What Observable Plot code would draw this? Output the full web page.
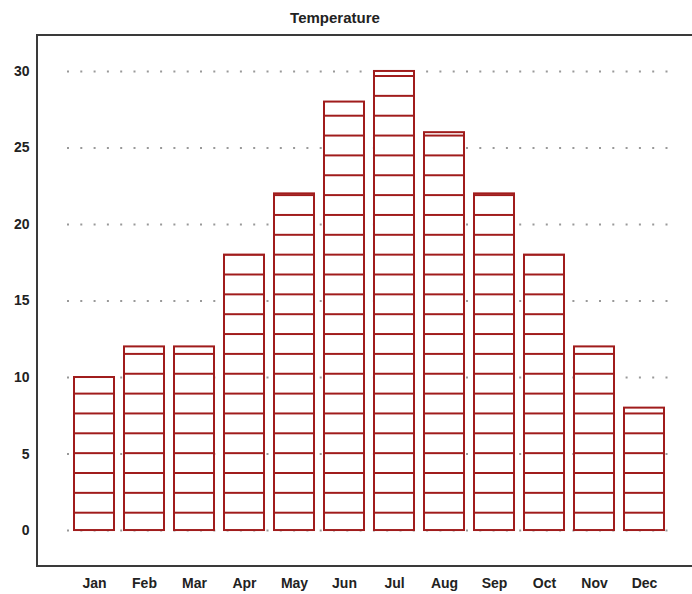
<!DOCTYPE html>
<html>
<head>
<meta charset="utf-8">
<script src="https://cdn.jsdelivr.net/npm/d3@7"></script>
<script src="https://cdn.jsdelivr.net/npm/@observablehq/plot@0.6"></script>
<style>
  html, body { margin: 0; padding: 0; background: #fff; }
  body { width: 692px; height: 594px; overflow: hidden; font-family: "Liberation Sans", Arial, sans-serif; }
  #title { height: 24px; padding-top: 6px; line-height: 24px; font-size: 15px; font-weight: bold; color: #222; width: 670px; text-align: center; }
</style>
</head>
<body>
<svg width="0" height="0" style="position:absolute">
  <defs>
    <pattern id="hatch" patternUnits="userSpaceOnUse" x="0" y="472.775" width="692" height="19.85">
      <rect x="0" y="0" width="692" height="19.85" fill="#fff"></rect>
      <line x1="0" x2="692" y1="9.925" y2="9.925" stroke="#a01c1c" stroke-width="2"></line>
    </pattern>
  </defs>
</svg>
<div id="title">Temperature</div>
<div id="chart"></div>
<script>
const months = ["Jan","Feb","Mar","Apr","May","Jun","Jul","Aug","Sep","Oct","Nov","Dec"];
const temps = [10, 12, 12, 18, 22, 28, 30, 26, 22, 18, 12, 8];
const yTicks = [0, 5, 10, 15, 20, 25, 30];

const data = months.map((m, i) => ({month: m, temp: temps[i]}));
const red = "#a01c1c";

const W = 692, H = 564;
const mL = 67, mR = 22, mT = 5, mB = 28;

const chart = Plot.plot({
  width: W,
  height: H,
  marginLeft: mL,
  marginRight: mR,
  marginTop: mT,
  marginBottom: mB,
  style: {fontFamily: "'Liberation Sans', Arial, sans-serif", background: "#fff", color: "#222"},
  x: {type: "band", domain: months, paddingInner: 0.2, paddingOuter: 0.1, label: null},
  y: {domain: [-2.35, 32.35], label: null},
  marks: [
    Plot.ruleY(yTicks, {stroke: "#999", strokeWidth: 2, strokeDasharray: "2,11.3"}),
    Plot.barY(data, {x: "month", y: "temp", fill: "url(#hatch)", stroke: red, strokeWidth: 2}),
    Plot.axisY(yTicks, {tickSize: 0, tickPadding: 38, fontSize: 14, fontWeight: "bold", fill: "#222", label: null}),
    Plot.axisX({tickSize: 0, tickPadding: 12, fontSize: 14, fontWeight: "bold", fill: "#222", label: null})
  ]
});

// L-shaped border (left, top, bottom)
d3.select(chart).append("path")
  .attr("d", `M${W},${mT} H37 V${H - mB} H${W}`)
  .attr("fill", "none")
  .attr("stroke", "#3a3a3a")
  .attr("stroke-width", 2);

document.getElementById("chart").appendChild(chart);
</script>
</body>
</html>
